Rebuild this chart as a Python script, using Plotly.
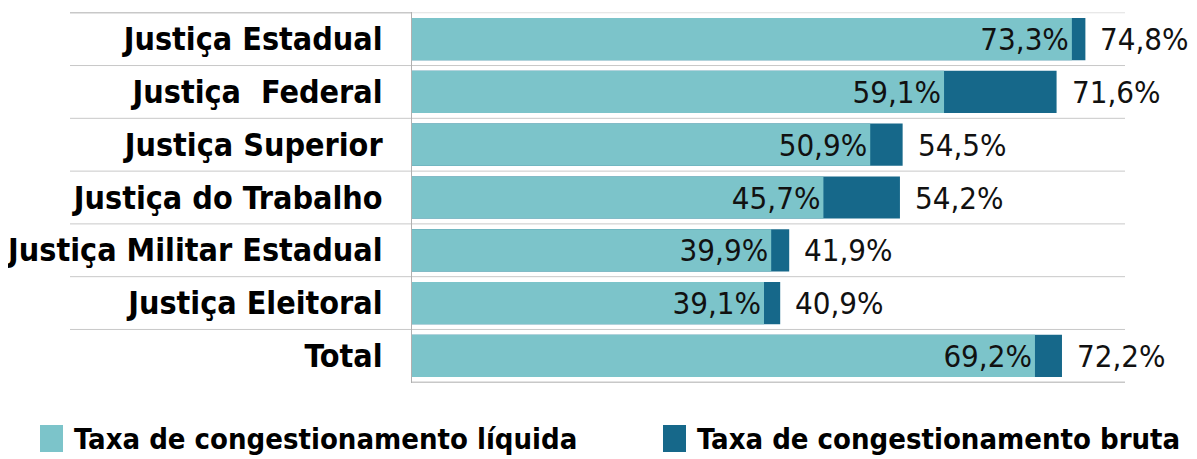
import plotly.graph_objects as go

categories = ["Justiça Estadual", "Justiça  Federal", "Justiça Superior", "Justiça do Trabalho",
              "Justiça Militar Estadual", "Justiça Eleitoral", "Total"]
liquida = [73.3, 59.1, 50.9, 45.7, 39.9, 39.1, 69.2]
bruta = [74.8, 71.6, 54.5, 54.2, 41.9, 40.9, 72.2]
series_names = ["Taxa de congestionamento líquida", "Taxa de congestionamento bruta"]

LIGHT = "#7CC4CA"
DARK = "#16688A"
COND = "DejaVu Sans Condensed, Liberation Sans Narrow, sans-serif"

OFF = 8  # page body margin of the written html
W, H = 1197 - OFF, 459 - OFF
ML, MR, MT, MB = 412 - OFF, 1197 - 1125, 12 - OFF, 459 - 383
PW, PH = W - ML - MR, H - MT - MB


def fmt(v):
    return f"{v:.1f}".replace(".", ",") + "%"


def px_x(p):
    return (p - OFF - ML) / PW


def px_y(p):
    return (H - MB - (p - OFF)) / PH


fig = go.Figure()
fig.add_trace(go.Bar(
    y=categories, x=bruta, orientation="h", name=series_names[1],
    marker=dict(color=DARK, line=dict(width=0)),
    width=0.8, showlegend=False, hoverinfo="skip",
))
fig.add_trace(go.Bar(
    y=categories, x=liquida, orientation="h", name=series_names[0],
    marker=dict(color=LIGHT, line=dict(width=0)),
    width=0.8, showlegend=False, text=[fmt(v) for v in liquida], textposition="inside",
    insidetextanchor="end", constraintext="none",
    textfont=dict(family=COND, size=31, color="#111111"), hoverinfo="skip",
))

for c, v in zip(categories, bruta):
    fig.add_annotation(x=v, y=c, text=fmt(v), showarrow=False, xanchor="left", xshift=13,
                       font=dict(family=COND, size=31, color="#111111"))

# separator lines at category boundaries
n = len(categories)
for k in range(n + 1):
    fig.add_shape(type="line", xref="paper", yref="y",
                  x0=px_x(70) if k < n else 0, x1=1 if k > 0 else 0.0,
                  y0=k - 0.5, y1=k - 0.5,
                  line=dict(color="#c8c8c8", width=1.5 if k in (0, n) else 1), layer="below")
fig.add_shape(type="line", xref="paper", yref="y", x0=0, x1=1, y0=-0.5, y1=-0.5,
              line=dict(color="#e0e0e0", width=1), layer="below")

# legend (drawn manually to match the reference's large swatches)
legend_items = [(40, 72, LIGHT), (663, 695, DARK)]
for (sx, tx, col), name in zip(legend_items, series_names):
    fig.add_shape(type="rect", xref="paper", yref="paper",
                  x0=px_x(sx), x1=px_x(sx + 23), y0=px_y(452), y1=px_y(425),
                  fillcolor=col, line=dict(width=0))
    fig.add_annotation(xref="paper", yref="paper", x=px_x(tx), y=px_y(439), text=f"<b>{name}</b>",
                       showarrow=False, xanchor="left", yanchor="middle",
                       font=dict(family=COND, size=29, color="#000000"))

fig.update_layout(
    width=W, height=H, paper_bgcolor="white", plot_bgcolor="white",
    margin=dict(l=ML, r=MR, t=MT, b=MB, autoexpand=False),
    barmode="overlay", showlegend=False,
    uniformtext=dict(minsize=31, mode="show"),
    xaxis=dict(range=[0, 79.2], showgrid=False, zeroline=False, showticklabels=False, ticks="",
               automargin=False),
    yaxis=dict(categoryorder="array", categoryarray=categories, autorange="reversed",
               showgrid=False, zeroline=False, showline=True, linecolor="#b0b0b0", linewidth=1,
               ticks="", ticklabelstandoff=22, automargin=False,
               tickfont=dict(family=COND, size=32, color="#000000", weight="bold")),
)

fig.write_html("out.html")
